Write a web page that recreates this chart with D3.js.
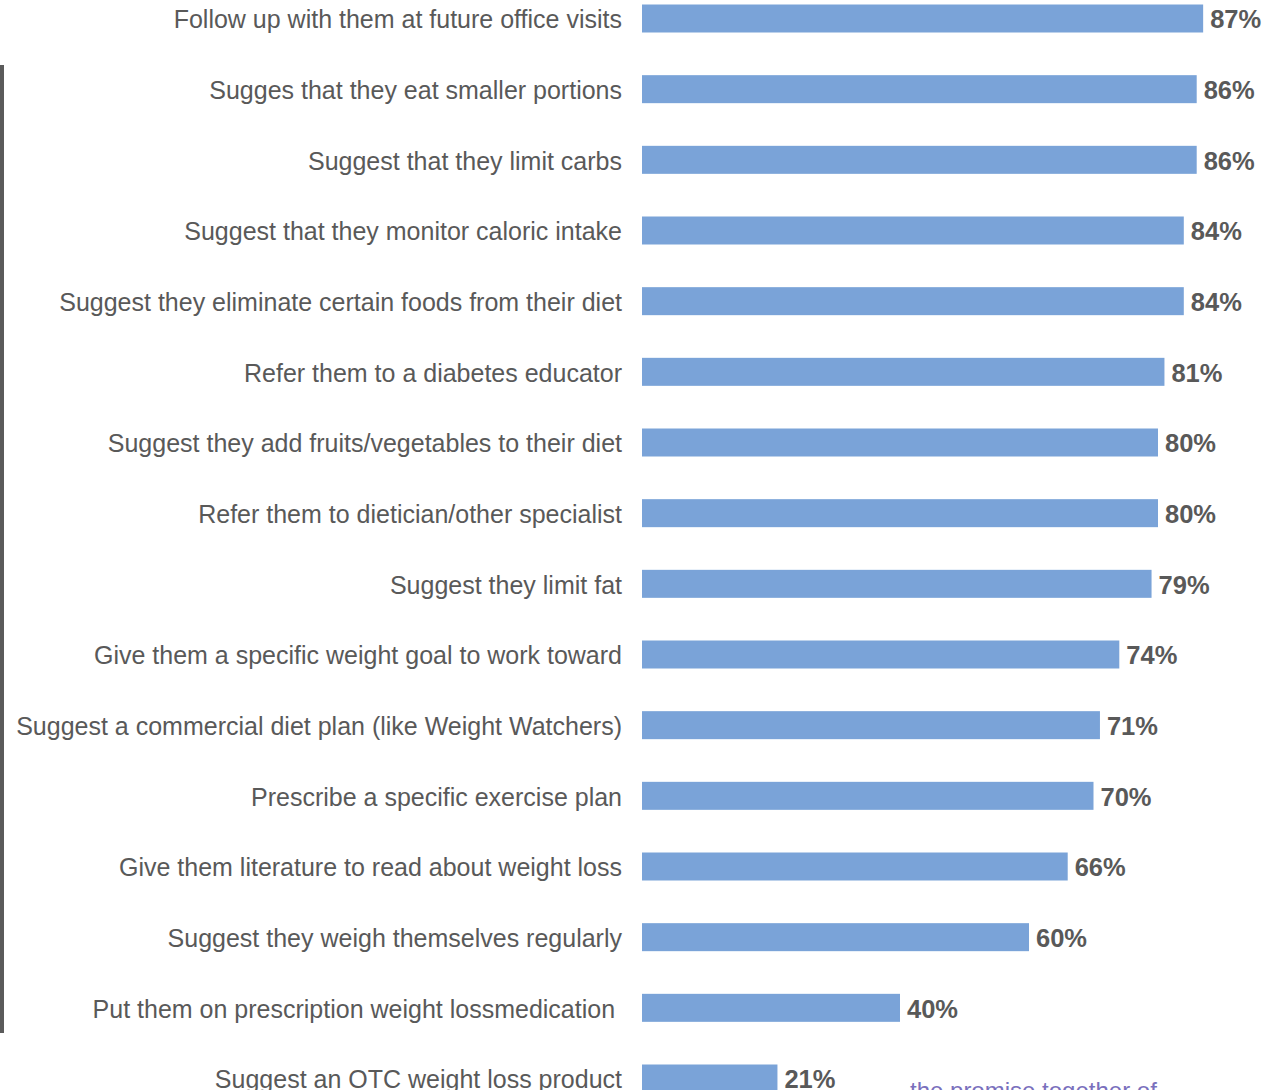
<!DOCTYPE html>
<html>
<head>
<meta charset="utf-8">
<script src="https://cdn.jsdelivr.net/npm/d3@7/dist/d3.min.js"></script>
<style>
  html, body { margin: 0; padding: 0; background: #ffffff; }
  svg { display: block; }
  text { font-family: "Liberation Sans", Arial, sans-serif; }
</style>
</head>
<body>
<svg id="chart" width="1278" height="1090"></svg>
<script>
// Actions taken with patients, share of respondents (%)
const categories = [
  "Follow up with them at future office visits",
  "Sugges that they eat smaller portions",
  "Suggest that they limit carbs",
  "Suggest that they monitor caloric intake",
  "Suggest they eliminate certain foods from their diet",
  "Refer them to a diabetes educator",
  "Suggest they add fruits/vegetables to their diet",
  "Refer them to dietician/other specialist",
  "Suggest they limit fat",
  "Give them a specific weight goal to work toward",
  "Suggest a commercial diet plan (like Weight Watchers)",
  "Prescribe a specific exercise plan",
  "Give them literature to read about weight loss",
  "Suggest they weigh themselves regularly",
  "Put them on prescription weight lossmedication ",
  "Suggest an OTC weight loss product"
];
const values = [87, 86, 86, 84, 84, 81, 80, 80, 79, 74, 71, 70, 66, 60, 40, 21];
const valueLabels = values.map(v => v + "%");
const footerText = "the promise together of";

const svg = d3.select("#chart");

const x = d3.scaleLinear().domain([0, 100]).range([642, 1287]);
const y = d3.scalePoint().domain(categories).range([18.5, 1078.5]);
const barH = 28;

// left frame rule
svg.append("rect")
  .attr("x", 0).attr("y", 65)
  .attr("width", 4).attr("height", 968)
  .attr("fill", "#5b5b5b");

// bars
svg.append("g").selectAll("rect")
  .data(categories)
  .join("rect")
  .attr("x", x(0))
  .attr("y", d => y(d) - barH / 2)
  .attr("width", (d, i) => x(values[i]) - x(0))
  .attr("height", barH)
  .attr("fill", "#7aa3d8");

// category labels
svg.append("g").selectAll("text")
  .data(categories)
  .join("text")
  .attr("x", 622)
  .attr("y", d => y(d) + 1)
  .attr("dy", "0.35em")
  .attr("text-anchor", "end")
  .style("white-space", "pre")
  .attr("font-size", 25)
  .attr("fill", "#595959")
  .text(d => d);

// value labels
svg.append("g").selectAll("text")
  .data(categories)
  .join("text")
  .attr("x", (d, i) => x(values[i]) + 7)
  .attr("y", d => y(d) + 1)
  .attr("dy", "0.35em")
  .attr("font-size", 25.5)
  .attr("font-weight", "bold")
  .attr("fill", "#595959")
  .text((d, i) => valueLabels[i]);

// footer text, clipped by the page edge
svg.append("text")
  .attr("x", 910)
  .attr("y", 1099)
  .attr("font-size", 24)
  .attr("fill", "#7a70bd")
  .attr("font-family", "Lato, 'Open Sans', sans-serif")
  .text(footerText);
</script>
</body>
</html>
